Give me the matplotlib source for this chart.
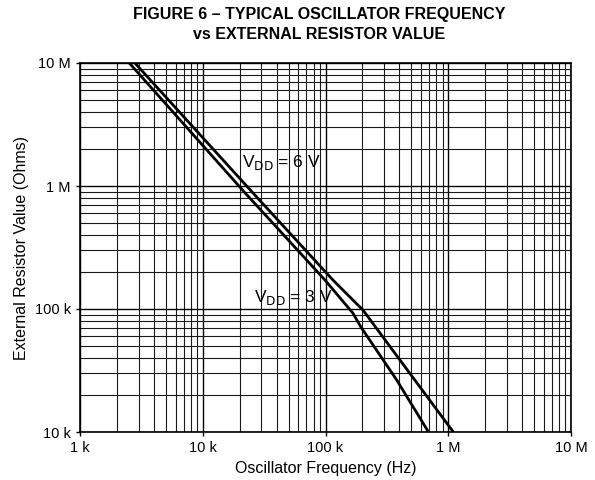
import matplotlib

matplotlib.use("Agg")
import matplotlib.pyplot as plt
from matplotlib.ticker import LogLocator, FixedLocator, NullFormatter

plt.rcParams["font.family"] = ["Liberation Sans", "DejaVu Sans"]

# Curves (Hz, Ohms)
freq_3v = [2.52e3, 22.1e3, 99e3, 167e3, 194e3, 380e3, 690e3]
res_3v = [10e6, 880e3, 172e3, 92.7e3, 71.5e3, 26.5e3, 10e3]
freq_6v = [2.8e3, 25.6e3, 115e3, 202e3, 404e3, 1.1e6]
res_6v = [10e6, 880e3, 172e3, 98e3, 38.5e3, 10e3]

x_ticks = [1e3, 1e4, 1e5, 1e6, 1e7]
x_labels = ["1 k", "10 k", "100 k", "1 M", "10 M"]
y_ticks = [1e4, 1e5, 1e6, 1e7]
y_labels = ["10 k", "100 k", "1 M", "10 M"]

fig = plt.figure(figsize=(5.95, 4.8), dpi=100)
ax = fig.add_axes([80 / 595, 48 / 480, 491 / 595, 369 / 480])
ax.set_xscale("log")
ax.set_yscale("log")
ax.set_xlim(1e3, 1e7)
ax.set_ylim(1e4, 1e7)

# datasheet style log grid
ax.xaxis.set_minor_locator(LogLocator(base=10, subs=range(2, 10), numticks=20))
ax.yaxis.set_minor_locator(LogLocator(base=10, subs=range(2, 10), numticks=20))
ax.xaxis.set_minor_formatter(NullFormatter())
ax.yaxis.set_minor_formatter(NullFormatter())
ax.grid(which="major", color="black", linewidth=1.0)
ax.grid(which="minor", color="#1a1a1a", linewidth=0.8)

ax.plot(freq_3v, res_3v, color="black", linewidth=2.0, zorder=5)
ax.plot(freq_6v, res_6v, color="black", linewidth=2.0, zorder=5)

ax.xaxis.set_major_locator(FixedLocator(x_ticks))
ax.set_xticklabels(x_labels)
ax.yaxis.set_major_locator(FixedLocator(y_ticks))
ax.set_yticklabels(y_labels)
ax.tick_params(which="major", length=3, width=1, labelsize=10.5, colors="black")
ax.tick_params(which="minor", length=0)
for s in ax.spines.values():
    s.set_linewidth(1.2)
    s.set_color("black")

ax.text(2.1e4, 1.55e6, r"V$_{\mathrm{DD}}$ = 6 V", fontsize=12.5, ha="left", va="center",
        zorder=6)
ax.text(2.6e4, 1.25e5, r"V$_{\mathrm{DD}}$ = 3 V", fontsize=12.5, ha="left", va="center",
        zorder=6)

ax.set_xlabel("Oscillator Frequency (Hz)", fontsize=11.5, labelpad=4)
ax.set_ylabel("External Resistor Value (Ohms)", fontsize=11.5, labelpad=4)

fig.text(0.537, 0.985, "FIGURE 6 \u2013 TYPICAL OSCILLATOR FREQUENCY\nvs EXTERNAL RESISTOR VALUE",
         ha="center", va="top", fontsize=11.5, fontweight="bold", linespacing=1.4)

fig.savefig("out.png", dpi=100)
